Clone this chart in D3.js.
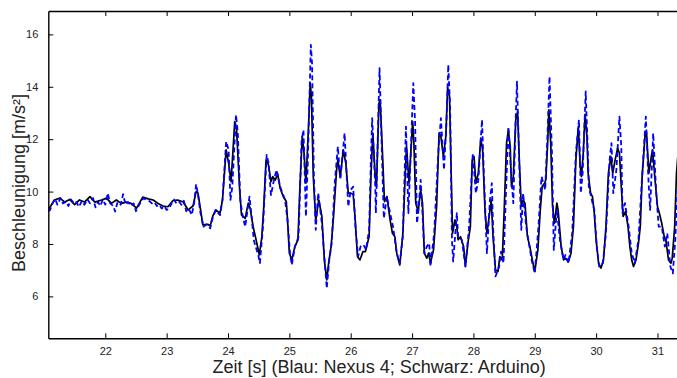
<!DOCTYPE html>
<html><head><meta charset="utf-8">
<script src="https://cdn.jsdelivr.net/npm/d3@7/dist/d3.min.js"></script>
<style>body{margin:0;background:#fff}svg{display:block}text{font-family:"Liberation Sans",Arial,sans-serif}</style>
</head><body>
<svg id="c" width="677" height="378"></svg>
<script>
// Arduino (black, solid)
const timeArduino = [21.07,21.09,21.17,21.26,21.34,21.42,21.50,21.58,21.66,21.75,21.83,21.94,22.02,22.10,22.18,22.26,22.34,22.42,22.51,22.61,22.70,22.78,22.86,22.94,23.02,23.10,23.18,23.27,23.35,23.43,23.48,23.51,23.55,23.59,23.67,23.71,23.75,23.80,23.87,23.91,23.97,24.01,24.05,24.11,24.14,24.19,24.22,24.28,24.33,24.36,24.41,24.47,24.51,24.55,24.58,24.62,24.66,24.70,24.73,24.77,24.81,24.85,24.90,24.95,24.97,25.00,25.04,25.09,25.14,25.17,25.21,25.24,25.27,25.31,25.34,25.36,25.39,25.43,25.48,25.53,25.57,25.61,25.64,25.68,25.72,25.77,25.79,25.83,25.88,25.92,25.96,26.00,26.04,26.07,26.11,26.15,26.20,26.24,26.30,26.33,26.36,26.40,26.42,26.46,26.48,26.52,26.55,26.59,26.64,26.68,26.72,26.75,26.80,26.85,26.89,26.91,26.95,27.01,27.03,27.06,27.10,27.14,27.17,27.20,27.24,27.27,27.30,27.35,27.40,27.44,27.47,27.51,27.55,27.58,27.61,27.64,27.66,27.70,27.73,27.75,27.79,27.84,27.87,27.91,27.95,27.98,28.01,28.04,28.08,28.12,28.15,28.19,28.22,28.25,28.29,28.32,28.36,28.40,28.43,28.47,28.50,28.54,28.57,28.60,28.62,28.65,28.69,28.72,28.75,28.78,28.81,28.84,28.88,28.92,28.96,29.00,29.05,29.09,29.12,29.16,29.18,29.21,29.23,29.26,29.29,29.32,29.36,29.38,29.43,29.47,29.50,29.55,29.59,29.63,29.67,29.71,29.74,29.76,29.79,29.82,29.85,29.87,29.91,29.94,29.97,30.00,30.04,30.08,30.12,30.16,30.20,30.24,30.27,30.31,30.35,30.38,30.41,30.44,30.48,30.52,30.55,30.58,30.61,30.65,30.69,30.72,30.75,30.80,30.82,30.86,30.90,30.92,30.96,31.00,31.03,31.07,31.11,31.14,31.18,31.22,31.24,31.28,31.31,31.33];
const accelArduino = [9.35,9.37,9.68,9.75,9.60,9.70,9.50,9.68,9.60,9.81,9.60,9.68,9.75,9.55,9.68,9.55,9.60,9.55,9.37,9.79,9.72,9.68,9.55,9.45,9.42,9.65,9.68,9.60,9.30,9.45,10.00,9.95,9.35,8.73,8.75,8.69,9.05,9.30,9.18,9.68,11.59,11.08,10.38,12.67,12.35,10.06,9.11,8.98,9.56,9.37,8.66,8.03,7.58,8.24,9.30,11.21,11.02,10.38,10.57,10.44,10.67,10.13,9.81,9.62,8.92,7.65,7.39,7.90,8.16,10.06,12.10,11.46,10.32,12.35,14.14,13.63,10.57,8.92,9.68,9.05,7.39,6.63,7.27,7.90,9.05,10.83,11.21,10.57,11.59,11.08,9.94,9.94,9.90,9.05,7.52,7.39,7.71,7.71,8.28,10.57,12.23,10.57,10.19,13.37,13.50,11.34,9.62,9.81,8.95,8.41,8.28,7.65,7.20,8.41,10.70,11.72,10.32,12.67,11.85,9.56,9.24,10.06,9.56,7.65,7.46,7.65,7.27,7.78,9.43,12.23,12.10,11.34,12.10,13.97,13.66,10.45,8.41,8.92,8.66,8.16,8.28,7.90,7.14,8.03,8.66,11.21,11.34,10.32,10.70,12.04,11.59,9.20,8.41,8.92,9.68,8.28,7.01,6.95,7.52,7.39,9.18,11.85,12.35,11.72,10.19,10.57,12.74,13.05,11.08,9.43,9.68,9.56,8.28,7.90,7.39,6.95,7.77,9.30,10.19,10.32,10.45,11.85,13.12,11.85,9.43,8.79,9.56,9.30,7.90,7.39,7.45,7.33,7.65,8.66,11.21,12.48,11.00,10.57,11.46,12.95,12.10,10.70,9.94,9.81,9.18,8.16,7.27,7.08,7.39,8.66,10.70,11.34,10.70,11.21,11.66,11.46,10.19,9.05,9.24,8.66,7.90,7.39,7.14,7.39,8.03,8.66,10.57,12.23,12.29,10.70,11.34,11.59,10.45,9.43,9.18,8.79,8.28,8.09,7.39,7.27,7.45,8.66,10.70,11.30];
// Nexus 4 (blue, dashed)
const timeNexus = [21.07,21.10,21.14,21.18,21.22,21.27,21.31,21.36,21.40,21.44,21.49,21.53,21.57,21.62,21.66,21.71,21.75,21.80,21.84,21.88,21.92,21.96,22.00,22.04,22.08,22.13,22.16,22.20,22.25,22.29,22.33,22.37,22.42,22.46,22.50,22.54,22.58,22.62,22.66,22.71,22.76,22.80,22.84,22.88,22.92,22.96,23.00,23.04,23.08,23.12,23.16,23.20,23.24,23.28,23.32,23.36,23.41,23.45,23.48,23.51,23.55,23.60,23.65,23.71,23.75,23.80,23.87,23.91,23.97,24.01,24.04,24.07,24.13,24.16,24.20,24.24,24.28,24.35,24.39,24.42,24.50,24.52,24.57,24.63,24.66,24.70,24.75,24.79,24.85,24.93,24.97,25.01,25.04,25.09,25.15,25.20,25.23,25.27,25.30,25.35,25.37,25.40,25.43,25.47,25.53,25.57,25.61,25.65,25.69,25.74,25.79,25.83,25.90,25.93,25.96,26.00,26.04,26.08,26.12,26.16,26.21,26.25,26.30,26.33,26.35,26.40,26.41,26.47,26.51,26.54,26.59,26.64,26.69,26.75,26.80,26.85,26.90,26.94,26.97,27.02,27.05,27.08,27.10,27.14,27.17,27.20,27.24,27.28,27.30,27.36,27.43,27.47,27.52,27.56,27.59,27.62,27.65,27.67,27.73,27.75,27.81,27.87,27.93,27.99,28.04,28.08,28.14,28.17,28.22,28.27,28.30,28.32,28.36,28.42,28.45,28.49,28.53,28.57,28.61,28.65,28.69,28.71,28.75,28.78,28.81,28.86,28.95,29.00,29.06,29.11,29.17,29.21,29.24,29.28,29.31,29.36,29.41,29.47,29.50,29.55,29.61,29.67,29.72,29.75,29.78,29.83,29.86,29.88,29.93,29.97,30.01,30.05,30.11,30.16,30.22,30.25,30.28,30.33,30.38,30.41,30.43,30.47,30.53,30.58,30.63,30.69,30.74,30.81,30.85,30.88,30.93,30.98,31.02,31.07,31.12,31.16,31.21,31.25,31.29,31.33];
const accelNexus = [9.25,9.30,9.55,9.72,9.50,9.75,9.55,9.62,9.45,9.70,9.55,9.60,9.42,9.65,9.50,9.70,9.55,9.75,9.40,9.60,9.45,9.70,9.50,9.94,9.55,9.45,9.24,9.60,9.50,9.90,9.50,9.60,9.45,9.55,9.25,9.45,9.60,9.75,9.70,9.65,9.55,9.60,9.45,9.50,9.35,9.45,9.30,9.35,9.55,9.70,9.55,9.62,9.50,9.65,9.25,9.35,9.11,9.60,10.28,9.90,9.20,8.66,8.75,8.60,9.00,9.30,9.10,9.68,11.91,11.59,9.68,10.19,12.93,12.23,9.68,9.05,8.66,9.81,8.92,8.15,7.50,7.27,8.66,11.40,11.10,9.87,10.45,10.83,10.19,9.68,8.92,7.65,7.20,7.90,8.28,11.97,12.35,9.05,11.08,15.60,14.89,10.57,8.54,9.94,8.79,7.52,6.31,7.39,8.03,10.32,11.72,10.45,12.23,10.83,9.43,10.06,10.19,8.54,7.52,7.90,7.97,7.78,8.54,11.34,12.80,10.19,9.18,14.71,11.34,8.98,9.81,9.20,8.66,7.65,7.27,8.28,12.48,9.18,10.95,14.14,12.61,8.79,9.18,10.45,9.18,7.65,7.90,8.03,7.14,8.41,11.59,12.80,10.83,12.61,14.84,13.24,8.16,7.33,9.18,8.28,8.16,7.14,8.66,11.46,9.94,10.45,12.74,10.70,7.65,9.68,10.32,8.66,6.76,7.14,7.71,7.27,9.94,12.48,10.83,9.56,12.86,14.20,10.83,8.54,9.94,8.66,7.39,6.88,8.66,10.57,10.06,12.35,14.39,11.46,7.77,9.30,8.16,7.39,7.58,7.27,8.41,11.46,12.74,9.94,10.70,13.82,11.85,10.19,9.68,9.30,7.90,7.14,7.27,8.41,11.21,11.85,9.94,10.83,12.86,11.72,9.18,9.56,8.66,7.65,7.27,8.16,10.19,12.86,10.57,9.30,12.23,9.94,8.66,8.66,7.90,8.41,7.14,6.88,8.16,10.19];
const xTicks = [22,23,24,25,26,27,28,29,30,31];
const yTicks = [6,8,10,12,14,16];
const xLabel = "Zeit [s] (Blau: Nexus 4; Schwarz: Arduino)";
const yLabel = "Beschleunigung [m/s²]";

const svg = d3.select("#c");
const L = 48.3, R = 710, T = 11, B = 338.3;
const x = d3.scaleLinear().domain([21.071, 31.856]).range([L, R]);
const y = d3.scaleLinear().domain([4.40, 16.893]).range([B, T]);

svg.append("defs").append("clipPath").attr("id","clip")
  .append("rect").attr("x",L).attr("y",T).attr("width",R-L).attr("height",B-T);

const line = d3.line().x(d=>x(d[0])).y(d=>y(d[1]));
const ard = timeArduino.map((t,i)=>[t,accelArduino[i]]);
const nex = timeNexus.map((t,i)=>[t,accelNexus[i]]);

const g = svg.append("g").attr("clip-path","url(#clip)");
g.append("path").datum(ard).attr("d",line).attr("fill","none")
  .attr("stroke","#000").attr("stroke-width",1.7).attr("stroke-linejoin","round");
g.append("path").datum(nex).attr("d",line).attr("fill","none")
  .attr("stroke","#0000ff").attr("stroke-width",1.8).attr("stroke-dasharray","5,3").attr("stroke-linejoin","round");

// axes
const ax = svg.append("g").attr("transform",`translate(0,${B})`)
  .call(d3.axisBottom(x).tickValues(xTicks).tickSizeInner(-5).tickSizeOuter(0).tickPadding(9).tickFormat(d3.format("d")));
const axT = svg.append("g").attr("transform",`translate(0,${T})`)
  .call(d3.axisTop(x).tickValues(xTicks).tickSizeInner(-5).tickSizeOuter(0).tickFormat(""));
const ay = svg.append("g").attr("transform",`translate(${L},0)`)
  .call(d3.axisLeft(y).tickValues(yTicks).tickSizeInner(-5).tickSizeOuter(0).tickPadding(10).tickFormat(d3.format("d")));
[ax,axT,ay].forEach(a=>{
  a.selectAll(".domain").attr("stroke","#000").attr("stroke-width",1.4);
  a.selectAll(".tick line").attr("stroke","#000").attr("stroke-width",1);
  a.selectAll("text").attr("font-family","Liberation Sans, Arial, sans-serif").attr("font-size",11).attr("fill","#222");
});

svg.append("text").attr("x",(L+R)/2).attr("y",373).attr("text-anchor","middle")
  .attr("font-size",18).attr("fill","#222").text(xLabel);
svg.append("text").attr("transform","translate(24.5,183) rotate(-90)").attr("text-anchor","middle")
  .attr("font-size",18).attr("fill","#222").text(yLabel);
</script>
</body></html>
